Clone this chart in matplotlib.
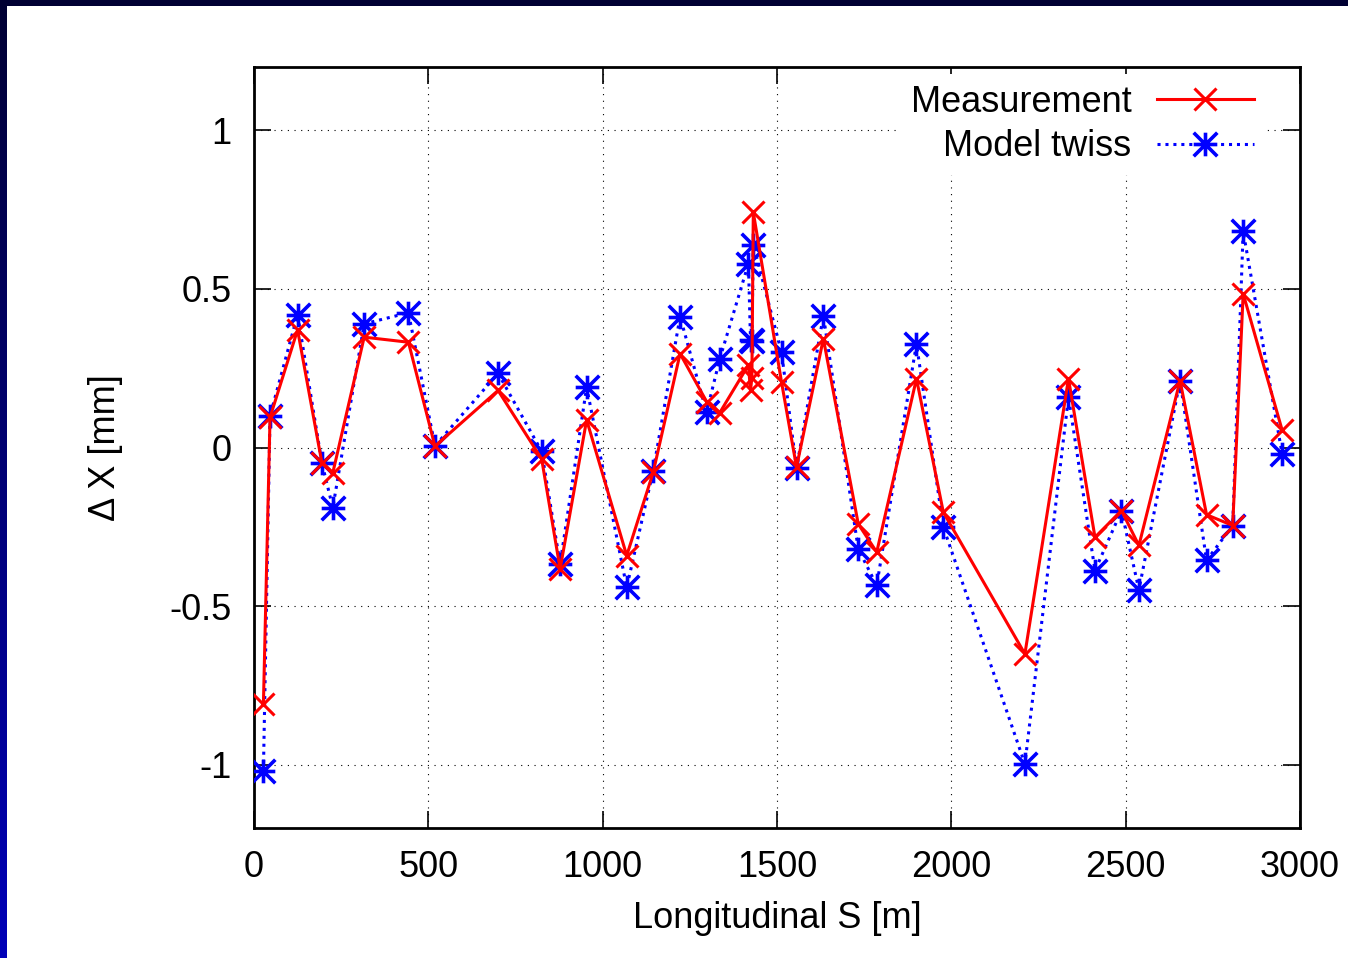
import numpy as np
import matplotlib
matplotlib.use('Agg')
import matplotlib.pyplot as plt
from matplotlib.path import Path

plt.rcParams['font.family'] = ['Liberation Sans', 'DejaVu Sans']
plt.rcParams['font.size'] = 26
plt.rcParams['axes.unicode_minus'] = False

# longitudinal position of each BPM [m]
s_pos = [27, 46, 125, 195, 226, 316, 443, 519, 700, 825, 878, 954, 1069, 1145,
         1222, 1298, 1336, 1418, 1424, 1428, 1432, 1513, 1556, 1633, 1733, 1786,
         1900, 1977, 2211, 2336, 2412, 2488, 2538, 2656, 2732, 2807, 2837, 2949]

# horizontal offset [mm]
measured = [-0.81, 0.095, 0.371, -0.05, -0.08, 0.348, 0.332, 0.004, 0.18, -0.036,
            -0.383, 0.087, -0.341, -0.078, 0.296, 0.145, 0.11, 0.26, 0.18, 0.22,
            0.742, 0.206, -0.062, 0.343, -0.241, -0.33, 0.217, -0.204, -0.651,
            0.217, -0.283, -0.199, -0.309, 0.211, -0.212, -0.246, 0.485, 0.054]
model = [-1.019, 0.10, 0.419, -0.05, -0.19, 0.39, 0.425, 0.005, 0.234, -0.012,
         -0.367, 0.19, -0.441, -0.073, 0.413, 0.111, 0.28, 0.58, 0.34, 0.335,
         0.64, 0.30, -0.065, 0.416, -0.32, -0.435, 0.327, -0.251, -0.998,
         0.159, -0.388, -0.199, -0.449, 0.211, -0.356, -0.246, 0.682, -0.022]

xticks = [0, 500, 1000, 1500, 2000, 2500, 3000]
yticks = [-1, -0.5, 0, 0.5, 1]
ytick_labels = ['-1', '-0.5', '0', '0.5', '1']

# gnuplot style asterisk: plus and cross on top of each other
star = Path([(-1, 0), (1, 0), (0, -1), (0, 1), (-1, -1), (1, 1), (-1, 1), (1, -1)],
            [Path.MOVETO, Path.LINETO] * 4)

W, H = 1348, 958
fig = plt.figure(figsize=(W / 100, H / 100), dpi=100)
fig.patch.set_facecolor('white')

# dark blue frame of the slide (top strip and a gradient on the left)
top = fig.add_axes([0, 1 - 6 / H, 1, 6 / H])
top.set_axis_off()
top.add_patch(plt.Rectangle((0, 0), 1, 1, color='#000033', transform=top.transAxes))
left = fig.add_axes([0, 0, 7 / W, 1])
grad = np.linspace(0, 1, 256).reshape(-1, 1)
left.imshow(grad, aspect='auto', extent=[0, 1, 0, 1], origin='upper',
            cmap=matplotlib.colors.LinearSegmentedColormap.from_list('b', ['#000033', '#0000b8']))
left.set_axis_off()

ax = fig.add_axes([254 / W, 1 - 828 / H, 1046 / W, 761 / H])
ax.plot(s_pos, measured, color='red', ls='-', lw=2.2, marker='x',
        markersize=16, mew=2.2, label='Measurement', zorder=4)
ax.plot(s_pos, model, color='blue', ls=(0, (1, 1.6)), lw=2.2, marker=star,
        markersize=17, mew=2.6, label='Model twiss', zorder=3)

ax.set_xlim(0, 3000)
ax.set_ylim(-1.2, 1.2)
ax.set_xticks(xticks)
ax.set_yticks(yticks)
ax.set_yticklabels(ytick_labels)
ax.tick_params(direction='in', length=12, width=1.2, top=True, right=True)
ax.tick_params(axis='x', pad=16)
ax.tick_params(axis='y', pad=16)
for sp in ax.spines.values():
    sp.set_linewidth(2)
ax.grid(True, color='black', ls=(0, (1, 5)), lw=0.8)
ax.set_axisbelow(True)

ax.set_xlabel('Longitudinal S [m]', va='center')
ax.xaxis.set_label_coords(0.5, (828 - 918) / 761)
ax.set_ylabel('Δ X [mm]', va='center')
ax.yaxis.set_label_coords((105 - 254) / 1046, 0.5)

leg = ax.legend(loc='upper right', bbox_to_anchor=(1265 / W, 1 - 74 / H),
                bbox_transform=fig.transFigure, markerfirst=False,
                handlelength=2.7, handletextpad=0.7, labelspacing=0.26,
                borderpad=0.3, borderaxespad=0, fancybox=False)
leg.get_frame().set_edgecolor('none')
leg.get_frame().set_facecolor('white')
leg.get_frame().set_alpha(1)

fig.savefig('out.png', dpi=100)
